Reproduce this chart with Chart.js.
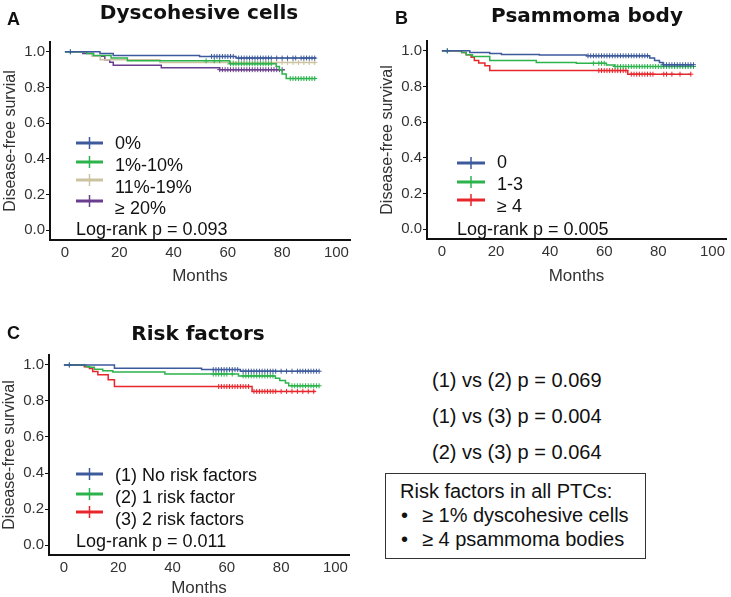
<!DOCTYPE html>
<html>
<head>
<meta charset="utf-8">
<script src="https://cdn.jsdelivr.net/npm/chart.js@4"></script>
<style>
  html, body { margin: 0; padding: 0; background: #fff; }
  #page { position: relative; width: 731px; height: 597px; overflow: hidden;
          font-family: "Liberation Sans", Arial, sans-serif; color: #111; }
  .abs { position: absolute; white-space: nowrap; line-height: 1; }
  .title { font-family: "DejaVu Sans", sans-serif; font-weight: bold; font-size: 20px; transform: translateX(-50%); }
  .letter { font-weight: bold; font-size: 18px; }
  .cmp { font-size: 20px; }
  #box { position: absolute; border: 1px solid #333; box-sizing: border-box; }
  canvas { position: absolute; }
</style>
</head>
<body>
<div id="page">
  <canvas id="chartA" width="365" height="290" style="left:0;top:0"></canvas>
  <canvas id="chartB" width="356" height="290" style="left:375px;top:0"></canvas>
  <canvas id="chartC" width="365" height="297" style="left:0;top:300px"></canvas>

  <div class="abs letter" style="left:7px;top:10px">A</div>
  <div class="abs title" style="left:199px;top:2px">Dyscohesive cells</div>
  <div class="abs letter" style="left:395px;top:9px">B</div>
  <div class="abs title" style="left:587px;top:5px">Psammoma body</div>
  <div class="abs letter" style="left:7px;top:324px">C</div>
  <div class="abs title" style="left:198px;top:323px">Risk factors</div>

  <div class="abs cmp" style="left:432px;top:370px">(1) vs (2) p = 0.069</div>
  <div class="abs cmp" style="left:432px;top:406px">(1) vs (3) p = 0.004</div>
  <div class="abs cmp" style="left:432px;top:442px">(2) vs (3) p = 0.064</div>

  <div id="box" style="left:385px;top:473px;width:261px;height:86px"></div>
  <div class="abs cmp" style="left:400px;top:481px">Risk factors in all PTCs:</div>
  <div class="abs cmp" style="left:401px;top:505px">•</div>
  <div class="abs cmp" style="left:422px;top:505px">≥ 1% dyscohesive cells</div>
  <div class="abs cmp" style="left:401px;top:529px">•</div>
  <div class="abs cmp" style="left:422px;top:529px">≥ 4 psammoma bodies</div>
</div>

<script>
const monthTicks = [0, 20, 40, 60, 80, 100];
const survTicks = [0, 0.2, 0.4, 0.6, 0.8, 1.0];

// A - dyscohesive cells
const dysLabels = ['0%', '1%-10%', '11%-19%', '≥ 20%'];
const dys0Time = [0, 12.9, 17.8, 49.6, 63, 92.5];
const dys0Surv = [1, 0.99, 0.98, 0.974, 0.965, 0.965];
const dys0Cens = [2, 54, 55, 56, 57, 58, 59, 60, 61, 62, 64, 65, 66, 67, 68, 69, 70, 71, 72, 73, 74, 75, 76, 78, 80, 82, 84, 85, 87, 88, 89, 90, 91, 92];
const dys1Time = [0, 8, 10.5, 17, 23, 60.7, 77.8, 79, 80, 81.5, 92.5];
const dys1Surv = [1, 0.99, 0.98, 0.965, 0.95, 0.933, 0.918, 0.9, 0.875, 0.85, 0.85];
const dys1Cens = [2, 52, 55, 57, 61, 62, 63, 64, 65, 66, 67, 68, 69, 70, 71, 72, 73, 74, 75, 76, 83, 84, 85, 86, 87, 88, 89, 90, 91, 92];
const dys2Time = [0, 10, 13, 35, 92.5];
const dys2Surv = [1, 0.975, 0.955, 0.94, 0.94];
const dys2Cens = [60, 62, 64, 66, 68, 70, 72, 74, 76, 78, 80, 82, 84, 86, 88, 90, 92];
const dys3Time = [0, 6.6, 10.5, 14.7, 16.5, 17.8, 35.5, 57, 81];
const dys3Surv = [1, 0.99, 0.975, 0.955, 0.942, 0.925, 0.91, 0.9, 0.9];
const dys3Cens = [57, 58, 59, 60, 61, 62, 63, 64, 65, 66, 67, 68, 69, 70, 71, 72, 73, 74, 75, 76, 77, 78, 79, 80];

// B - psammoma body
const psaLabels = ['0', '1-3', '≥ 4'];
const psa0Time = [0, 10.3, 17.7, 22, 36, 53.4, 76.8, 78.6, 80.4, 81.7, 92.7];
const psa0Surv = [1, 0.99, 0.985, 0.979, 0.976, 0.972, 0.959, 0.946, 0.934, 0.922, 0.922];
const psa0Cens = [2, 54, 55, 56, 57, 58, 59, 60, 61, 62, 63, 64, 65, 66, 67, 68, 69, 70, 71, 72, 73, 74, 75, 76, 82, 83, 84, 85, 86, 87, 88, 89, 90, 91, 92, 93];
const psa1Time = [0, 7.3, 9, 11.3, 17.7, 34.9, 49.7, 60.8, 63.8, 92.7];
const psa1Surv = [1, 0.99, 0.978, 0.968, 0.946, 0.934, 0.93, 0.921, 0.912, 0.912];
const psa1Cens = [2, 56, 58, 59, 60, 64, 65, 66, 67, 68, 69, 70, 71, 72, 73, 74, 75, 76, 77, 78, 79, 80, 81, 82, 83, 84, 85, 86, 87, 88, 89, 90, 91, 92, 93];
const psa2Time = [0, 7.3, 9, 10.8, 12, 13.6, 15.9, 17.7, 68.7, 92];
const psa2Surv = [1, 0.99, 0.978, 0.964, 0.946, 0.931, 0.916, 0.889, 0.869, 0.869];
const psa2Cens = [58, 59, 60, 61, 62, 63, 64, 65, 66, 67, 68, 70, 71, 72, 73, 74, 75, 76, 77, 78, 82, 83, 85, 88, 92];

// C - risk factors
const riskLabels = ['(1) No risk factors', '(2) 1 risk factor', '(3) 2 risk factors'];
const risk0Time = [0, 18.6, 50.7, 65, 94];
const risk0Surv = [1, 0.982, 0.974, 0.965, 0.965];
const risk0Cens = [2, 55, 56, 57, 58, 59, 60, 61, 62, 63, 64, 66, 67, 68, 69, 70, 71, 72, 73, 74, 75, 76, 77, 78, 80, 82, 84, 86, 87, 88, 89, 90, 91, 92, 93, 94];
const risk1Time = [0, 8.1, 9.4, 11.2, 14.3, 18, 37.2, 64.3, 77.9, 79.5, 81.6, 82.8, 94];
const risk1Surv = [1, 0.99, 0.987, 0.976, 0.967, 0.96, 0.949, 0.939, 0.926, 0.913, 0.899, 0.884, 0.884];
const risk1Cens = [2, 55, 56, 57, 58, 59, 60, 62, 66, 67, 68, 69, 70, 71, 72, 73, 74, 75, 76, 77, 84, 85, 86, 87, 88, 89, 90, 91, 92, 93, 94];
const risk2Time = [0, 7.5, 9.4, 10.6, 12.5, 16.3, 18.6, 69.3, 92.7];
const risk2Surv = [1, 0.99, 0.98, 0.963, 0.945, 0.917, 0.88, 0.853, 0.853];
const risk2Cens = [57, 58, 59, 60, 61, 62, 63, 64, 65, 66, 67, 68, 70, 71, 72, 73, 74, 75, 76, 77, 78, 80, 82, 84, 86, 88, 90, 92];

const BLUE = '#3c5a9c', GREEN = '#2db34c', TAN = '#cbc3a0', PURPLE = '#6a3d8e', RED = '#e8262b';
const FONT = '"Liberation Sans", Arial, sans-serif';

function survAt(times, surv, t) {
  let s = surv[0];
  times.forEach((tt, i) => { if (tt <= t) s = surv[i]; });
  return s;
}

// KM curve: horizontal first, then the drop ('before' in Chart.js terms)
function kmSets(times, surv, cens, color) {
  return [
    {
      type: 'line',
      data: times.map((t, i) => ({ x: t, y: surv[i] })),
      stepped: 'before',
      borderColor: color,
      borderWidth: 1.5,
      pointRadius: 0,
      fill: false
    },
    {
      type: 'scatter',
      data: cens.map(t => ({ x: t, y: survAt(times, surv, t) })),
      pointStyle: 'cross',
      pointRadius: 2.5,
      borderColor: color,
      borderWidth: 1,
      showLine: false
    }
  ];
}

const kmLegend = {
  id: 'kmLegend',
  afterDraw(chart, args, o) {
    const ctx = chart.ctx;
    ctx.save();
    o.labels.forEach((lab, i) => {
      const y = o.lineY[i];
      ctx.strokeStyle = o.colors[i];
      ctx.lineWidth = 3;
      ctx.beginPath(); ctx.moveTo(o.x0, y); ctx.lineTo(o.x1, y); ctx.stroke();
      const mx = (o.x0 + o.x1) / 2;
      ctx.lineWidth = 1.5;
      ctx.beginPath(); ctx.moveTo(mx, y - 6); ctx.lineTo(mx, y + 6); ctx.stroke();
      ctx.fillStyle = '#111';
      ctx.font = '18px ' + FONT;
      ctx.textBaseline = 'alphabetic';
      ctx.fillText(lab, o.tx, o.textY[i]);
    });
    ctx.fillText(o.pText, o.x0, o.pY);
    ctx.restore();
  }
};

function makePanel(id, datasets, yTitle, g, legend) {
  new Chart(document.getElementById(id), {
    type: 'line',
    data: { datasets },
    plugins: [kmLegend],
    options: {
      responsive: false,
      animation: false,
      layout: { padding: { top: g.top, right: g.right, left: 0, bottom: 0 } },
      plugins: { legend: { display: false }, tooltip: { enabled: false }, kmLegend: legend },
      scales: {
        x: {
          type: 'linear', min: -5.5, max: 105,
          afterBuildTicks: s => { s.ticks = monthTicks.map(v => ({ value: v })); },
          afterFit: s => { s.height = g.xh; },
          border: { display: true, color: '#111', width: 2 },
          grid: { display: false, drawTicks: false },
          ticks: { font: { size: 15, family: FONT }, color: '#333', padding: 4, maxRotation: 0 },
          title: { display: true, text: 'Months', color: '#333', font: { size: 17, family: FONT, lineHeight: 1 }, padding: { top: 0, bottom: g.xtp } }
        },
        y: {
          type: 'linear', min: -0.055, max: 1.055,
          afterBuildTicks: s => { s.ticks = survTicks.map(v => ({ value: v })); },
          afterFit: s => { s.width = g.yw; },
          border: { display: true, color: '#111', width: 2 },
          grid: { display: true, drawOnChartArea: false, drawTicks: true, tickLength: 4, color: '#111' },
          ticks: { font: { size: 15, family: FONT }, color: '#333', padding: 1, callback: v => v.toFixed(1) },
          title: { display: true, text: yTitle, color: '#333', font: { size: 16, family: FONT }, padding: { top: g.ytp, bottom: 0 } }
        }
      }
    }
  });
}

makePanel('chartA', [
  ...kmSets(dys0Time, dys0Surv, dys0Cens, BLUE),
  ...kmSets(dys1Time, dys1Surv, dys1Cens, GREEN),
  ...kmSets(dys2Time, dys2Surv, dys2Cens, TAN),
  ...kmSets(dys3Time, dys3Surv, dys3Cens, PURPLE)
], 'Disease-free survial',
  { top: 42, right: 15, xh: 50, yw: 50, xtp: 5, ytp: 1 },
  { labels: dysLabels, colors: [BLUE, GREEN, TAN, PURPLE], x0: 76, x1: 103, tx: 115,
    lineY: [143, 162, 180, 201], textY: [149, 171, 193, 214], pText: 'Log-rank p = 0.093', pY: 235 });

makePanel('chartB', [
  ...kmSets(psa0Time, psa0Surv, psa0Cens, BLUE),
  ...kmSets(psa1Time, psa1Surv, psa1Cens, GREEN),
  ...kmSets(psa2Time, psa2Surv, psa2Cens, RED)
], 'Disease-free survival',
  { top: 41, right: 3, xh: 51, yw: 52, xtp: 5, ytp: 3 },
  { labels: psaLabels, colors: [BLUE, GREEN, RED], x0: 82, x1: 110, tx: 122,
    lineY: [163, 182, 200], textY: [168, 190, 212], pText: 'Log-rank p = 0.005', pY: 235 });

makePanel('chartC', [
  ...kmSets(risk0Time, risk0Surv, risk0Cens, BLUE),
  ...kmSets(risk1Time, risk1Surv, risk1Cens, GREEN),
  ...kmSets(risk2Time, risk2Surv, risk2Cens, RED)
], 'Disease-free survival',
  { top: 55, right: 16, xh: 42, yw: 49, xtp: 0, ytp: 0 },
  { labels: riskLabels, colors: [BLUE, GREEN, RED], x0: 76, x1: 103, tx: 115,
    lineY: [174, 194, 212], textY: [181, 203, 225], pText: 'Log-rank p = 0.011', pY: 247 });
</script>
</body>
</html>
